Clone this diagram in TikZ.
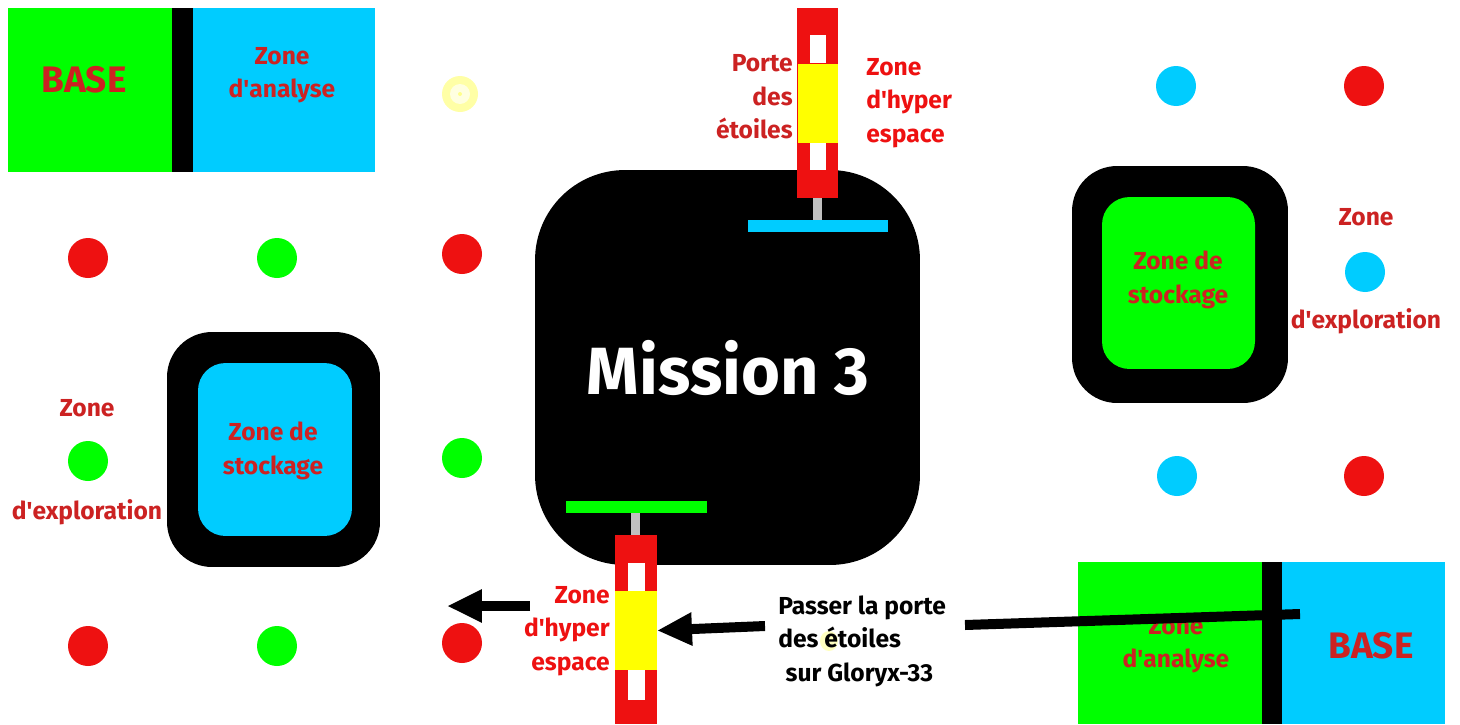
\documentclass[tikz,border=0pt]{standalone}
\usepackage{fontspec}
\setmainfont{Fira Sans}
\usetikzlibrary{arrows.meta}

\definecolor{padgreen}{HTML}{00FF00}
\definecolor{padcyan}{HTML}{00CCFF}
\definecolor{padred}{HTML}{EE1111}
\definecolor{textred}{HTML}{CC2222}
\definecolor{padyellow}{HTML}{FFFF00}
\definecolor{stemgray}{HTML}{C0C0C0}

\newcommand{\straightq}{\textquotesingle}

\begin{document}
\begin{tikzpicture}[
    x=0.02cm,
    y=-0.02cm,
    block/.style={
        draw=none,
        inner sep=0pt,
        outer sep=0pt
    },
    storage/.style={
        draw=none,
        fill=black,
        inner sep=0pt,
        rounded corners=0.9cm
    },
    storagein/.style={
        draw=none,
        inner sep=0pt,
        rounded corners=0.55cm
    },
    dot/.style={
        circle,
        minimum size=0.8cm,
        inner sep=0pt
    },
    zonetext/.style={
        text=textred,
        font=\fontsize{14}{19}\selectfont\bfseries,
        align=center,
        inner sep=0pt
    },
    basetext/.style={
        text=textred,
        font=\fontsize{21}{25}\selectfont\bfseries,
        inner sep=0pt
    },
    bigarrow/.style={
        -{Triangle[length=0.7cm, width=0.62cm]},
        line width=0.2cm,
        black
    }
]

    % ==========================================
    % BACKGROUND
    % ==========================================
    \fill[white] (0,0) rectangle (1460,724);
    \useasboundingbox (0,0) rectangle (1460,724);

    % ==========================================
    % BASES
    % ==========================================

    % Base (Top Left)
    \node[block, fill=padgreen, minimum width=3.28cm, minimum height=3.28cm] (BaseNW) at (90,90) {};
    \node[block, fill=black, minimum width=0.42cm, minimum height=3.28cm] (WallNW) at (182.5,90) {};
    \node[block, fill=padcyan, minimum width=3.64cm, minimum height=3.28cm] (AnalyseNW) at (284,90) {};
    \node[basetext] (BaseNWText) at (84,80) {BASE};
    \node[zonetext] (AnalyseNWText) at (282,75) {Zone\\d\straightq analyse};

    % Base (Bottom Right)
    \node[block, fill=padgreen, minimum width=3.68cm, minimum height=3.24cm] (AnalyseSE) at (1170,643) {};
    \node[block, fill=black, minimum width=0.4cm, minimum height=3.24cm] (WallSE) at (1272,643) {};
    \node[block, fill=padcyan, minimum width=3.26cm, minimum height=3.24cm] (BaseSE) at (1363.5,643) {};
    \node[zonetext] (AnalyseSEText) at (1176,645) {Zone\\d\straightq analyse};
    \node[basetext] (BaseSEText) at (1371,646) {BASE};

    % ==========================================
    % STORAGE ZONES
    % ==========================================
    \node[storage, minimum width=4.26cm, minimum height=4.7cm] (StockW) at (273.5,449.5) {};
    \node[storagein, fill=padcyan, minimum width=3.08cm, minimum height=3.46cm] (StockWIn) at (275,449.5) {};
    \node[zonetext] (StockWText) at (273,451) {Zone de\\stockage};

    \node[storage, minimum width=4.32cm, minimum height=4.74cm] (StockE) at (1180,284.5) {};
    \node[storagein, fill=padgreen, minimum width=3.06cm, minimum height=3.44cm] (StockEIn) at (1178.5,283) {};
    \node[zonetext] (StockEText) at (1178,280) {Zone de\\stockage};

    % ==========================================
    % MISSION
    % ==========================================
    \node[block, fill=black, rounded corners=1.8cm, minimum width=7.7cm, minimum height=7.9cm] (Mission) at (727.5,367.5) {};
    \node[text=white, font=\fontsize{38}{44}\selectfont\bfseries, inner sep=0pt] (MissionText) at (728,368) {Mission 3};

    % ==========================================
    % STAR GATES
    % ==========================================

    % Top gate
    \node[block, fill=padred, minimum width=0.82cm, minimum height=3.8cm] (GateN) at (817.5,103) {};
    \node[block, fill=white, minimum width=0.32cm, minimum height=0.56cm] (SlotN1) at (818,49) {};
    \node[block, fill=white, minimum width=0.32cm, minimum height=0.54cm] (SlotN2) at (818,156.5) {};
    \node[block, fill=padyellow, minimum width=0.8cm, minimum height=1.58cm] (YellowN) at (818,103.5) {};
    \node[block, fill=stemgray, minimum width=0.18cm, minimum height=0.44cm] (StemN) at (817.5,209) {};
    \node[block, fill=padcyan, minimum width=2.8cm, minimum height=0.24cm] (PadN) at (818,226) {};

    % Bottom gate
    \node[block, fill=padgreen, minimum width=2.82cm, minimum height=0.24cm] (PadS) at (636.5,507) {};
    \node[block, fill=stemgray, minimum width=0.18cm, minimum height=0.44cm] (StemS) at (635.5,524) {};
    \node[block, fill=padred, minimum width=0.84cm, minimum height=3.78cm] (GateS) at (636,629.5) {};
    \node[block, fill=white, minimum width=0.34cm, minimum height=0.56cm] (SlotS1) at (636.5,577) {};
    \node[block, fill=white, minimum width=0.34cm, minimum height=0.6cm] (SlotS2) at (636.5,685) {};
    \node[block, fill=padyellow, minimum width=0.84cm, minimum height=1.58cm] (YellowS) at (636,630.5) {};

    % Gate labels
    \node[zonetext, align=right, anchor=east] (PorteText) at (793,97) {Porte\\des\\étoiles};
    \node[zonetext, text=padred, align=left, anchor=west] (HyperNText) at (866,103) {Zone\\d\straightq hyper\\espace};
    \node[zonetext, text=padred, align=right, anchor=east] (HyperSText) at (610,631) {Zone\\d\straightq hyper\\espace};

    % ==========================================
    % EXPLORATION DOTS
    % ==========================================
    \node[dot, fill=padred] (DotA1) at (88,258) {};
    \node[dot, fill=padgreen] (DotA2) at (277,258) {};
    \node[dot, fill=padred] (DotA3) at (462,254) {};
    \node[dot, fill=padgreen] (DotB1) at (88,461) {};
    \node[dot, fill=padgreen] (DotB3) at (462,458) {};
    \node[dot, fill=padred] (DotC1) at (88,646) {};
    \node[dot, fill=padgreen] (DotC2) at (277,646) {};
    \node[dot, fill=padred] (DotC3) at (462,643) {};

    \node[dot, fill=padcyan] (DotE1) at (1176,86) {};
    \node[dot, fill=padred] (DotE2) at (1364,86) {};
    \node[dot, fill=padcyan] (DotE3) at (1365,272) {};
    \node[dot, fill=padcyan] (DotE4) at (1177,476) {};
    \node[dot, fill=padred] (DotE5) at (1364,476) {};

    \node[zonetext] (ExploWTop) at (87,408) {Zone};
    \node[zonetext] (ExploWBot) at (87,512) {d\straightq exploration};
    \node[zonetext] (ExploETop) at (1366,217) {Zone};
    \node[zonetext] (ExploEBot) at (1366,321) {d\straightq exploration};

    % Faded yellow marker
    \node[dot, fill=padyellow!35, minimum size=0.72cm] (Glow) at (460,94) {};
    \node[dot, fill=padyellow!12, minimum size=0.4cm] (GlowIn) at (460,94) {};
    \node[dot, fill=padyellow!45, minimum size=0.08cm] (GlowDot) at (460,94) {};

    % ==========================================
    % INSTRUCTION
    % ==========================================
    \fill[padyellow!25] (829,641) ellipse (9 and 10);
    \node[font=\fontsize{14}{19}\selectfont\bfseries, align=left, anchor=west, inner sep=0pt] (Passer) at (778,641) {Passer la porte\\des étoiles\\\hspace{0.3em}sur Gloryx-33};

    \coordinate (ArrowTail) at (765,626);
    \coordinate (ExitTail) at (530,606);
    \coordinate (ExitHead) at (447,606);
    \coordinate (LineTail) at (965,625);
    \coordinate (LineHead) at (1300,614);

    % ==========================================
    % CONNECTIONS
    % ==========================================
    \draw[bigarrow] (ArrowTail) -- (YellowS.east);
    \draw[bigarrow] (ExitTail) -- (ExitHead);
    \draw[line width=0.2cm] (LineTail) -- (LineHead);

\end{tikzpicture}
\end{document}
